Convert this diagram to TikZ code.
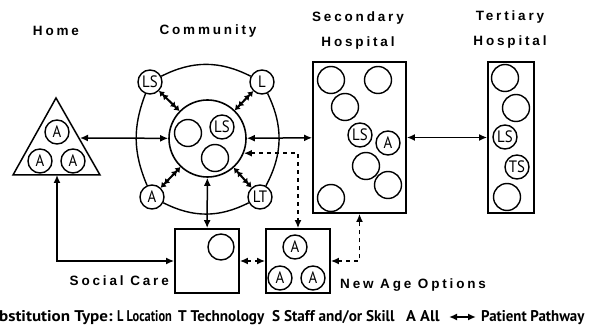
\documentclass[tikz,border=0pt]{standalone}
\usepackage{fontspec}
\usepackage{graphicx}
\usetikzlibrary{arrows.meta}
\newfontfamily\titlefont[LetterSpace=21]{Liberation Sans}
\newfontfamily\circfont[FakeStretch=0.9]{PT Sans}
\newfontfamily\legfont{PT Sans}
\tikzset{
  ttl/.style={font=\titlefont\bfseries\fontsize{13.5}{25}\selectfont, inner sep=0pt, align=center},
  sub/.style={circle, draw, line width=1.4pt, minimum size=24pt, inner sep=0pt, fill=white,
              font=\circfont\fontsize{16.5}{16}\selectfont},
  emp/.style={circle, draw, line width=1.4pt, minimum size=27pt, inner sep=0pt},
  boxnode/.style={draw, line width=1.8pt, inner sep=0pt},
  tip/.tip={Latex[length=8pt,width=7pt]},
  dtip/.tip={Latex[length=5pt,width=7pt]Latex[length=5pt,width=7pt]},
  pw/.style={line width=1.5pt, tip-tip},
  spw/.style={line width=2pt, dtip-dtip},
  pwd/.style={pw, dash pattern=on 4pt off 4pt},
  ring/.style={line width=1.4pt},
  leg/.style={font=\legfont\bfseries\fontsize{15.5}{15}\selectfont, inner sep=0pt, anchor=base west},
}
\begin{document}
\begin{tikzpicture}[x=1pt,y=-1pt]
\useasboundingbox (0,0) rectangle (589,328);
% titles
\node[ttl] (tHome) at (56,31) {Home};
\node[ttl] (tComm) at (208,31) {Community};
\node[ttl] (tSec) at (358,31) {Secondary\\Hospital};
\node[ttl] (tTer) at (510,30) {Tertiary\\Hospital};
% home triangle
\draw[line width=1.5pt] (56,98) -- (100,175) -- (13,175) -- cycle;
\coordinate (homeR) at (80,138);
\coordinate (homeB) at (57,175);
\node[sub] (h1) at (57,132) {A};
\node[sub] (h2) at (40,161) {A};
\node[sub] (h3) at (73,161) {A};
% community
\node[circle, draw, line width=1.6pt, minimum size=77pt, inner sep=0pt] (inner) at (207.5,138.5) {};
\node[emp] (c1) at (188,133) {};
\node[sub] (c2) at (222,127) {LS};
\node[emp] (c3) at (215,158) {};
\node[sub] (sLS) at (150,82) {LS};
\node[sub] (sL) at (262,82) {L};
\node[sub] (sA) at (152,197) {A};
\node[sub] (sLT) at (260,197) {LT};
\draw[ring] (sLS) to[bend left=27] (sL);
\draw[ring] (sL) to[bend left=27] (sLT);
\draw[ring] (sLS) to[bend right=22] (sA);
\draw[ring] (sA) to[bend right=27] (sLT);
\draw[spw] (sLS) -- (inner);
\draw[spw] (sL) -- (inner);
\draw[spw] (sA) -- (inner);
\draw[spw] (sLT) -- (inner);
% secondary hospital
\node[boxnode, minimum width=93pt, minimum height=151pt] (sec) at (359.5,137.5) {};
\node[emp] (s1) at (331,80) {};
\node[emp] (s2) at (378,80) {};
\node[emp] (s3) at (345,107) {};
\node[sub] (s4) at (360,135) {LS};
\node[sub] (s5) at (388,143) {A};
\node[emp] (s6) at (366,166) {};
\node[emp] (s7) at (388,185) {};
\node[emp] (s8) at (331,198) {};
% tertiary hospital
\node[boxnode, minimum width=46pt, minimum height=151pt] (ter) at (511,137.5) {};
\node[emp] (t1) at (505,78) {};
\node[emp] (t2) at (516,108) {};
\node[sub] (t3) at (505,137) {LS};
\node[sub] (t4) at (517,167) {TS};
\node[emp] (t5) at (507,197) {};
% social care
\node[boxnode, minimum width=64pt, minimum height=64pt] (soc) at (207,261) {};
\node[emp, minimum size=26pt] (so1) at (221,247) {};
\node[ttl, anchor=east] (tSoc) at (169,281) {Social Care};
% new age options
\node[boxnode, minimum width=64pt, minimum height=64pt] (nao) at (298,261) {};
\node[sub] (n1) at (295,247) {A};
\node[sub] (n2) at (280,278) {A};
\node[sub] (n3) at (313,278) {A};
\node[ttl, anchor=west] (tNao) at (340,285) {New Age Options};
% pathways
\draw[pw] (homeR) -- (inner);
\draw[pw] (inner) -- (sec);
\draw[pw] (sec) -- (ter);
\draw[pw] (inner) -- (soc);
\draw[pw] (homeB) |- (soc.west);
\draw[pwd] (soc) -- (nao);
\draw[pwd] (inner.-22) -| (nao.north);
\draw[pwd] (nao.east) -| (sec.south);
% legend
\node[leg] (l1) at (-1,322) {\scalebox{1.1}[1]{bstitution Type:}};
\node[leg] (l2) at (117,322) {\scalebox{0.8}[1]{L Location}};
\node[leg] (l3) at (178,322) {\scalebox{0.98}[1]{T Technology}};
\node[leg] (l4) at (272,322) {\scalebox{0.98}[1]{S Staff and/or Skill}};
\node[leg] (l5) at (406,322) {\scalebox{1.05}[1]{A All}};
\coordinate (la) at (449,317);
\coordinate (lb) at (476,317);
\draw[line width=2pt, {Latex[length=8pt,width=7pt]}-{Latex[length=8pt,width=7pt]}] (la) -- (lb);
\node[leg] (l6) at (481,322) {\scalebox{0.96}[1]{Patient Pathway}};
\end{tikzpicture}
\end{document}
